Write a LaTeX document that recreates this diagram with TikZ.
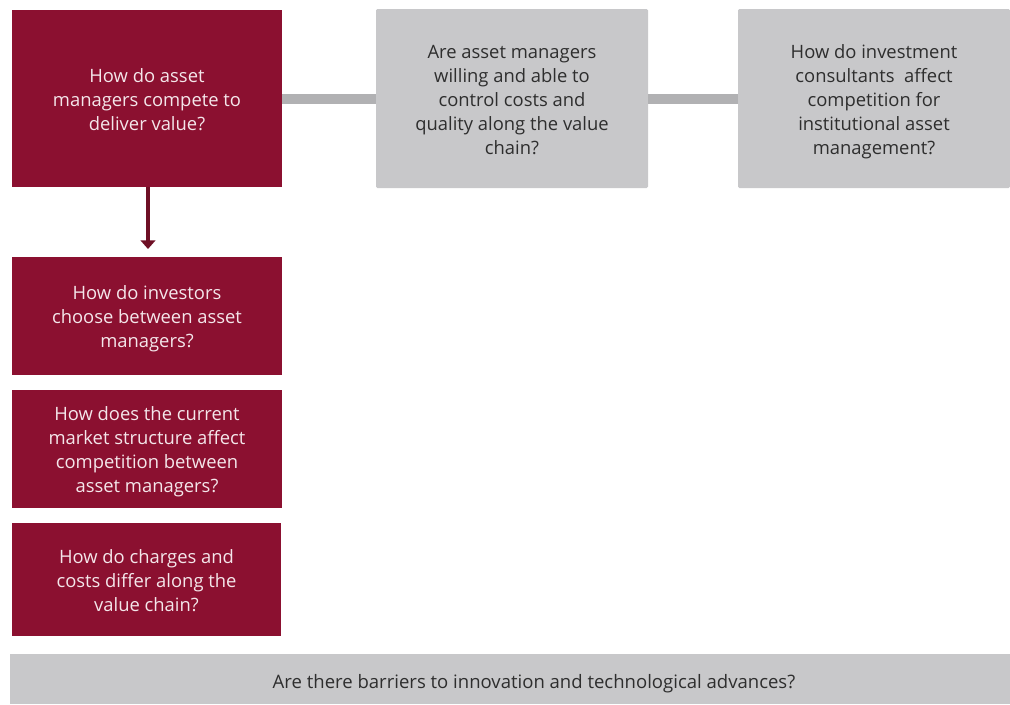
\documentclass[tikz,border=0pt]{standalone}
\usepackage{fontspec}
\setmainfont{Open Sans}
\usepackage{tikz}
\usetikzlibrary{arrows.meta, positioning}
\definecolor{claret}{HTML}{8B1030}
\definecolor{darkclaret}{HTML}{6E0F25}
\definecolor{paleclaret}{HTML}{F4E6EA}
\definecolor{boxgrey}{HTML}{C8C8CA}
\definecolor{linkgrey}{HTML}{B1B1B3}
\definecolor{textgrey}{HTML}{2E2E2E}
% question text, centred lines, set a little lower in its box
\newcommand{\qtext}[1]{\raisebox{-2.25pt}[\height][\depth]{\begin{tabular}{@{}c@{}}#1\end{tabular}}}
\tikzset{
x=0.75pt, y=-0.75pt, % one unit is one pixel of the reference
redbox/.style={fill=claret, text=paleclaret, inner sep=0pt,
  font=\fontsize{13.8}{18}\selectfont}, % red question boxes
greybox/.style={fill=boxgrey, text=textgrey, inner sep=0pt,
  rounded corners=1pt, font=\fontsize{13.8}{18}\selectfont}, % grey question boxes
link/.style={draw=linkgrey, line width=7.5pt}, % thick grey joins
down/.style={draw=darkclaret, line width=3.5pt, -{Triangle[width=11pt,length=6.5pt]}},
}
\begin{document}
\begin{tikzpicture}
\useasboundingbox (0,0) rectangle (1010,704);
\node[redbox, minimum width=202.5pt, minimum height=132.75pt] (compete) at (147,98.5)
  {\qtext{How do asset\\managers compete to\\deliver value?}};
\node[greybox, minimum width=204pt, minimum height=134.25pt] (costs) at (512,98.5)
  {\qtext{Are asset managers\\willing and able to\\control costs and\\quality along the value\\chain?}};
\node[greybox, minimum width=204pt, minimum height=134.25pt] (consult) at (874,98.5)
  {\qtext{How do investment\\consultants\ \ affect\\competition for\\institutional asset\\management?}};
\node[redbox, minimum width=202.5pt, minimum height=88.5pt] (choose) at (147,316)
  {\qtext{How do investors\\choose between asset\\managers?}};
\node[redbox, minimum width=202.5pt, minimum height=88.5pt] (structure) at (147,449)
  {\qtext{How does the current\\market structure affect\\competition between\\asset managers?}};
\node[redbox, minimum width=201.75pt, minimum height=84.75pt] (charges) at (146.5,579.5)
  {\qtext{How do charges and\\costs differ along the\\value chain?}};
\node[greybox, rounded corners=0pt, minimum width=750pt, minimum height=37.5pt,
  font=\fontsize{13.9}{15}\selectfont] (barriers) at (510,679)
  {\raisebox{-3.75pt}[\height][\depth]{\hspace*{36pt}Are there barriers to innovation and technological advances?}};
\draw[link] (compete) -- (costs);
\draw[link] (costs) -- (consult);
\coordinate (arrowtip) at (148,249);
\draw[down] (compete.south -| arrowtip) -- (arrowtip);
\end{tikzpicture}
\end{document}
